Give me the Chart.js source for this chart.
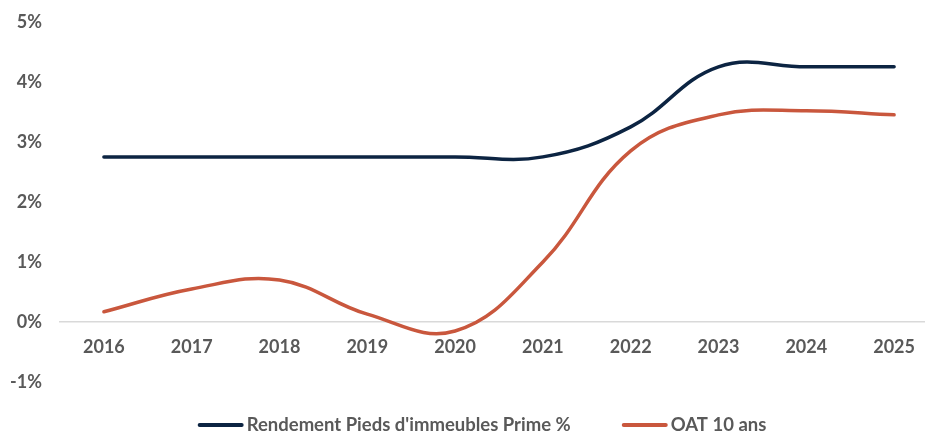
<!DOCTYPE html>
<html lang="fr">
<head>
    <meta charset="UTF-8">
    <title>Rendement vs OAT</title>
    <style>
        html, body { margin: 0; padding: 0; background: #fff; overflow: hidden; width: 925px; height: 432px; }
        /* chart.js keeps ~29px above the plot here, so the canvas is lifted a little */
        .wrap-chart { position: relative; top: -7px; width: 945px; height: 439px; }
    </style>
</head>
<body>
    <div class="wrap-chart">
        <canvas id="myChart"></canvas>
    </div>

    <script src="https://cdn.jsdelivr.net/npm/chart.js"></script>
    <script>
        const years = ['2016', '2017', '2018', '2019', '2020', '2021', '2022', '2023', '2024', '2025'];
        const rendementPrime = [2.75, 2.75, 2.75, 2.75, 2.75, 2.75, 3.25, 4.25, 4.25, 4.25];
        const oat10 = [0.17, 0.55, 0.7, 0.13, -0.15, 1.0, 2.85, 3.45, 3.52, 3.45];
        const seriesNames = ["Rendement Pieds d'immeubles Prime %", 'OAT 10 ans'];
        const seriesColors = ['#0c2442', '#c9573d'];

        const FONT = 'Lato, "Open Sans", sans-serif';
        const GREY = '#595959';

        // legend drawn by hand so it sits where Excel put it
        const bottomLegend = {
            id: 'bottomLegend',
            afterDraw(chart) {
                const { ctx } = chart;
                const swatch = 46, gap = 3, between = 51, y = 432, centre = 482;
                ctx.save();
                ctx.font = 'bold 18.5px ' + FONT;
                const widths = seriesNames.map(n => ctx.measureText(n).width);
                let total = 0;
                widths.forEach((w, i) => { total += swatch + gap + w + (i ? between : 0); });
                let x = centre - total / 2;
                chart.data.datasets.forEach((ds, i) => {
                    ctx.strokeStyle = ds.borderColor;
                    ctx.lineWidth = 4;
                    ctx.lineCap = 'round';
                    ctx.beginPath();
                    ctx.moveTo(x + 2, y);
                    ctx.lineTo(x + swatch - 2, y);
                    ctx.stroke();
                    x += swatch + gap;
                    ctx.fillStyle = GREY;
                    ctx.textBaseline = 'middle';
                    ctx.fillText(ds.label, x, y);
                    x += widths[i] + between;
                });
                ctx.restore();
            }
        };

        new Chart(document.getElementById('myChart'), {
            type: 'line',
            data: {
                labels: years,
                datasets: [
                    {
                        label: seriesNames[0],
                        data: rendementPrime,
                        borderColor: seriesColors[0],
                        backgroundColor: seriesColors[0],
                    },
                    {
                        label: seriesNames[1],
                        data: oat10,
                        borderColor: seriesColors[1],
                        backgroundColor: seriesColors[1],
                    },
                ]
            },
            plugins: [bottomLegend],
            options: {
                responsive: true,
                maintainAspectRatio: false,
                animation: false,
                layout: { padding: { top: 22, right: 7, bottom: 50, left: 0 } },
                elements: {
                    line: { borderWidth: 3.5, tension: 0.4, borderCapStyle: 'round' },
                    point: { radius: 0, hoverRadius: 0 }
                },
                plugins: {
                    legend: { display: false },
                    tooltip: { enabled: false }
                },
                scales: {
                    x: {
                        position: { y: 0 },
                        offset: true,
                        grid: { display: false, drawTicks: false },
                        border: { display: true, color: '#d9d9d9', width: 1.5 },
                        ticks: {
                            padding: 14,
                            color: GREY,
                            font: { family: FONT, size: 18, weight: 'bold' }
                        }
                    },
                    y: {
                        min: -1,
                        max: 5,
                        grid: { display: false, drawTicks: false },
                        border: { display: false },
                        afterFit(scale) { scale.width = 60; },
                        ticks: {
                            stepSize: 1,
                            padding: 18,
                            color: GREY,
                            font: { family: FONT, size: 18, weight: 'bold' },
                            callback: v => v + '%'
                        }
                    }
                }
            }
        });
    </script>
</body>
</html>
